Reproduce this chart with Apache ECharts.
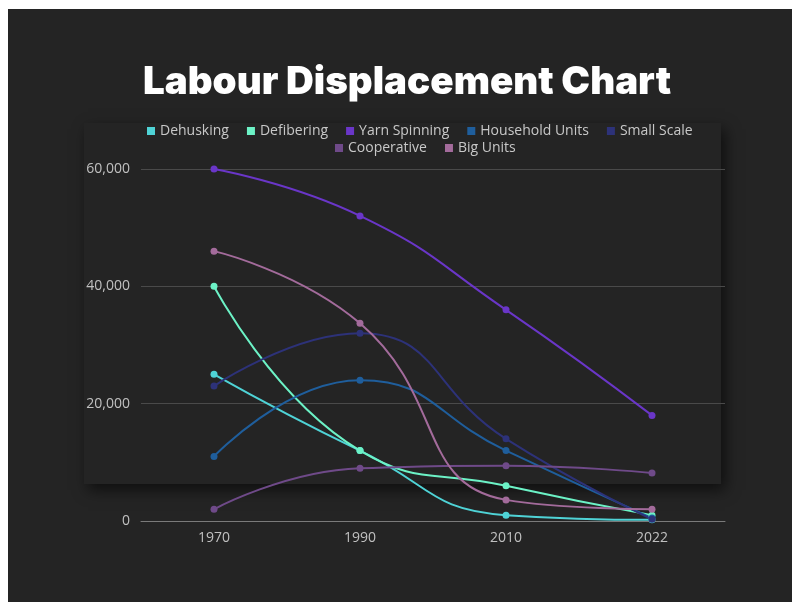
<!DOCTYPE html>
<html>
<head>
<meta charset="utf-8">
<script src="https://cdn.jsdelivr.net/npm/echarts@6/dist/echarts.min.js"></script>
<style>
  html, body { margin: 0; padding: 0; background: #ffffff; }
  #chart { position: absolute; left: 8px; top: 9px; width: 784px; height: 593px; background: #242424; }
</style>
</head>
<body>
<div id="chart"></div>
<script>
  var years = ['1970', '1990', '2010', '2022']
  var dehusking = [25000, 12000, 1000, 200]
  var defibering = [40000, 12000, 6000, 1000]
  var yarnSpinning = [60000, 52000, 36000, 18000]
  var householdUnits = [11000, 24000, 12000, 500]
  var smallScale = [23000, 32000, 14000, 300]
  var cooperative = [2000, 9000, 9400, 8200]
  var bigUnits = [46000, 33700, 3600, 2000]

  var names = ['Dehusking', 'Defibering', 'Yarn Spinning', 'Household Units', 'Small Scale', 'Cooperative', 'Big Units']
  var values = [dehusking, defibering, yarnSpinning, householdUnits, smallScale, cooperative, bigUnits]
  var colors = ['#4fd3d6', '#6cf2c6', '#6a36c8', '#1f5e9c', '#2d3279', '#6f4a89', '#a36b9b']

  var myChart = echarts.init(document.getElementById('chart'))

  var series = names.map(function (n, i) {
    return {
      name: n,
      type: 'line',
      data: values[i],
      smooth: true,
      symbol: 'circle',
      symbolSize: 7,
      lineStyle: { width: 2 },
      z: 3
    }
  })

  var legendStyle = {
    itemWidth: 8,
    itemHeight: 8,
    itemGap: 18,
    icon: 'rect',
    textStyle: { color: '#c8c8c8', fontSize: 14, fontFamily: 'Open Sans' }
  }

  myChart.setOption({
    backgroundColor: '#242424',
    color: colors,
    title: {
      text: 'Labour Displacement Chart',
      left: 130,
      top: 49,
      textStyle: {
        color: '#ffffff',
        fontFamily: 'Inter',
        fontWeight: 900,
        fontSize: 38.5
      }
    },
    graphic: [{
      type: 'rect',
      left: 76,
      top: 114,
      shape: { width: 637, height: 361 },
      style: {
        fill: '#242424',
        shadowBlur: 14,
        shadowOffsetX: 4,
        shadowOffsetY: 6,
        shadowColor: 'rgba(0,0,0,0.6)'
      },
      z: -1
    }],
    legend: [
      Object.assign({ data: names.slice(0, 5), top: 110, left: 134 }, legendStyle),
      Object.assign({ data: names.slice(5), top: 127, left: 322 }, legendStyle)
    ],
    grid: {
      left: 133,
      right: 67,
      top: 160,
      bottom: 81
    },
    xAxis: {
      type: 'category',
      data: years,
      boundaryGap: true,
      axisTick: { show: false },
      axisLine: { lineStyle: { color: '#7a7a7a' } },
      axisLabel: { color: '#c0c0c0', fontSize: 14, fontFamily: 'Open Sans', margin: 10 }
    },
    yAxis: {
      type: 'value',
      min: 0,
      max: 60000,
      interval: 20000,
      axisLine: { show: false },
      axisTick: { show: false },
      splitLine: { lineStyle: { color: '#4a4a4a' } },
      axisLabel: { color: '#c0c0c0', fontSize: 14, fontFamily: 'Open Sans', margin: 11 }
    },
    series: series
  })
</script>
</body>
</html>
